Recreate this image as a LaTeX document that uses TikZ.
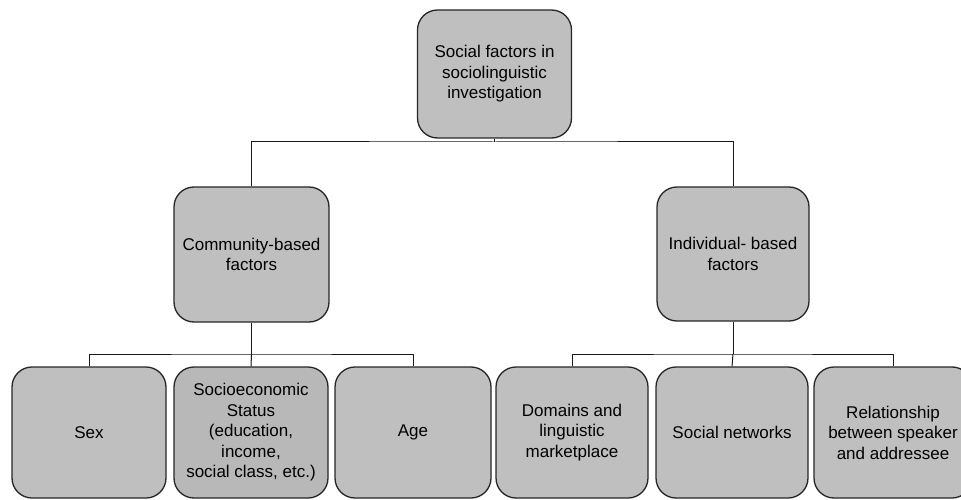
\documentclass[tikz,border=0pt]{standalone}
\usepackage{fontspec}
\setmainfont{Liberation Sans}
\begin{document}
\begin{tikzpicture}[x=1pt,y=-1pt,
  box/.style={draw=black!85, line width=1.3pt, fill=black!25, rounded corners=20pt,
    align=center, inner sep=0pt, font=\fontsize{17}{20.5}\selectfont, text=black},
  conn/.style={draw=black!90, line width=1pt}]
\useasboundingbox (0,0) rectangle (961,500);
\node[box, minimum width=154pt, minimum height=128pt] (top) at (494.5,74) {Social factors in\\sociolinguistic\\investigation};
\node[box, minimum width=155pt, minimum height=135pt] (comm) at (251.5,254.5) {Community-based\\factors};
\node[box, minimum width=152pt, minimum height=134pt] (ind) at (733,254) {Individual- based\\factors};
\node[box, minimum width=154pt, minimum height=131pt] (sex) at (89,432.5) {Sex};
\node[box, minimum width=154pt, minimum height=131pt, fill=black!28] (ses) at (251,432.5) {Socioeconomic\\Status\\(education,\\income,\\social class, etc.)};
\node[box, minimum width=156pt, minimum height=131pt] (age) at (413,432.5) {Age};
\node[box, minimum width=152pt, minimum height=131pt] (dom) at (572,432.5) {Domains and\\linguistic\\marketplace};
\node[box, minimum width=152pt, minimum height=131pt] (soc) at (732,432.5) {Social networks};
\node[box, minimum width=158pt, minimum height=131pt] (rel) at (893,432.5) {Relationship\\between speaker\\and addressee};
\coordinate (j1) at (494.5,142);
\coordinate (j2) at (251.5,354);
\coordinate (j3) at (733,354);
\draw[conn] (top.south) -- (j1);
\draw[conn] (comm.north) |- (j1) -| (ind.north);
\draw[conn] (comm.south) -- (j2);
\draw[conn] (sex.north) |- (j2) -| (age.north);
\draw[conn] (j2) -- (ses.north);
\draw[conn] (ind.south) -- (j3);
\draw[conn] (dom.north) |- (j3) -| (rel.north);
\draw[conn] (j3) -- (soc.north);
\end{tikzpicture}
\end{document}
